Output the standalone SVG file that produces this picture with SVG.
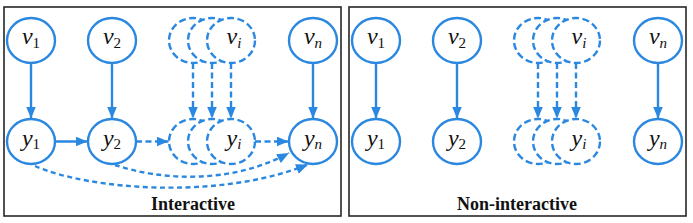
<svg xmlns="http://www.w3.org/2000/svg" width="693" height="223" viewBox="0 0 693 223">
<style>
text,tspan{font-family:"Liberation Serif",serif !important}
.panel{fill:#fff;stroke:#262626;stroke-width:1.6}
.n{fill:#fff;stroke:#2b88e0;stroke-width:2.4}
.d{fill:#fff;stroke:#2b88e0;stroke-width:2.4;stroke-dasharray:7 3.5}
.e{fill:none;stroke:#2b88e0;stroke-width:2.4}
.ed{fill:none;stroke:#2b88e0;stroke-width:2.4;stroke-dasharray:6 3.5}
.dot{fill:none;stroke:#2b88e0;stroke-width:2.4;stroke-dasharray:5 3.5}
</style>
<defs>
<marker id="ah" markerUnits="userSpaceOnUse" markerWidth="13" markerHeight="11" refX="12" refY="5" orient="auto">
<path d="M0,0 L12,5 L0,10 z" fill="#2b88e0"/>
</marker>
</defs>
<rect class="panel" x="4" y="7" width="337" height="209"/>
<rect class="panel" x="349" y="7" width="337" height="209"/>

<g id="left-panel">
<g id="L-v1"><ellipse class="n" cx="31" cy="40.5" rx="24" ry="22.5"/><text style="font-family:'Liberation Serif',serif" font-style="italic" font-size="24" fill="#111" x="31" y="44" text-anchor="middle">v<tspan font-size="15" font-style="normal" dy="3.5">1</tspan></text></g>
<g id="L-v2"><ellipse class="n" cx="112" cy="40.5" rx="24" ry="22.5"/><text style="font-family:'Liberation Serif',serif" font-style="italic" font-size="24" fill="#111" x="112" y="44" text-anchor="middle">v<tspan font-size="15" font-style="normal" dy="3.5">2</tspan></text></g>
<g id="L-vi">
<ellipse class="d" cx="193" cy="40.5" rx="24" ry="22.5"/>
<ellipse class="d" cx="212" cy="40.5" rx="24" ry="22.5"/>
<ellipse class="d" cx="231" cy="40.5" rx="24" ry="22.5"/>
<text style="font-family:'Liberation Serif',serif" font-style="italic" font-size="24" fill="#111" x="234" y="44" text-anchor="middle">v<tspan font-size="15" dy="3.5">i</tspan></text></g>
<g id="L-vn"><ellipse class="n" cx="313" cy="40.5" rx="24" ry="22.5"/><text style="font-family:'Liberation Serif',serif" font-style="italic" font-size="24" fill="#111" x="313" y="44" text-anchor="middle">v<tspan font-size="15" dy="3.5">n</tspan></text></g>
<g id="L-y1"><ellipse class="n" cx="31" cy="141.5" rx="24" ry="22.5"/><text style="font-family:'Liberation Serif',serif" font-style="italic" font-size="24" fill="#111" x="31" y="146" text-anchor="middle">y<tspan font-size="15" font-style="normal" dy="3">1</tspan></text></g>
<g id="L-y2"><ellipse class="n" cx="112" cy="141.5" rx="24" ry="22.5"/><text style="font-family:'Liberation Serif',serif" font-style="italic" font-size="24" fill="#111" x="112" y="146" text-anchor="middle">y<tspan font-size="15" font-style="normal" dy="3">2</tspan></text></g>
<g id="L-yi">
<ellipse class="d" cx="193" cy="141.5" rx="24" ry="22.5"/>
<ellipse class="d" cx="212" cy="141.5" rx="24" ry="22.5"/>
<ellipse class="d" cx="231" cy="141.5" rx="24" ry="22.5"/>
<text style="font-family:'Liberation Serif',serif" font-style="italic" font-size="24" fill="#111" x="234" y="146" text-anchor="middle">y<tspan font-size="15" dy="3">i</tspan></text></g>
<g id="L-yn"><ellipse class="n" cx="313" cy="141.5" rx="24" ry="22.5"/><text style="font-family:'Liberation Serif',serif" font-style="italic" font-size="24" fill="#111" x="313" y="146" text-anchor="middle">y<tspan font-size="15" dy="3">n</tspan></text></g>
<text style="font-family:'Liberation Serif',serif" font-weight="bold" font-size="18" fill="#111" x="193" y="210" text-anchor="middle">Interactive</text>
</g>

<g id="right-panel">
<g id="R-v1"><ellipse class="n" cx="376" cy="40.5" rx="24" ry="22.5"/><text style="font-family:'Liberation Serif',serif" font-style="italic" font-size="24" fill="#111" x="376" y="44" text-anchor="middle">v<tspan font-size="15" font-style="normal" dy="3.5">1</tspan></text></g>
<g id="R-v2"><ellipse class="n" cx="457" cy="40.5" rx="24" ry="22.5"/><text style="font-family:'Liberation Serif',serif" font-style="italic" font-size="24" fill="#111" x="457" y="44" text-anchor="middle">v<tspan font-size="15" font-style="normal" dy="3.5">2</tspan></text></g>
<g id="R-vi">
<ellipse class="d" cx="538" cy="40.5" rx="24" ry="22.5"/>
<ellipse class="d" cx="557" cy="40.5" rx="24" ry="22.5"/>
<ellipse class="d" cx="576" cy="40.5" rx="24" ry="22.5"/>
<text style="font-family:'Liberation Serif',serif" font-style="italic" font-size="24" fill="#111" x="579" y="44" text-anchor="middle">v<tspan font-size="15" dy="3.5">i</tspan></text></g>
<g id="R-vn"><ellipse class="n" cx="658" cy="40.5" rx="24" ry="22.5"/><text style="font-family:'Liberation Serif',serif" font-style="italic" font-size="24" fill="#111" x="658" y="44" text-anchor="middle">v<tspan font-size="15" dy="3.5">n</tspan></text></g>
<g id="R-y1"><ellipse class="n" cx="376" cy="141.5" rx="24" ry="22.5"/><text style="font-family:'Liberation Serif',serif" font-style="italic" font-size="24" fill="#111" x="376" y="146" text-anchor="middle">y<tspan font-size="15" font-style="normal" dy="3">1</tspan></text></g>
<g id="R-y2"><ellipse class="n" cx="457" cy="141.5" rx="24" ry="22.5"/><text style="font-family:'Liberation Serif',serif" font-style="italic" font-size="24" fill="#111" x="457" y="146" text-anchor="middle">y<tspan font-size="15" font-style="normal" dy="3">2</tspan></text></g>
<g id="R-yi">
<ellipse class="d" cx="538" cy="141.5" rx="24" ry="22.5"/>
<ellipse class="d" cx="557" cy="141.5" rx="24" ry="22.5"/>
<ellipse class="d" cx="576" cy="141.5" rx="24" ry="22.5"/>
<text style="font-family:'Liberation Serif',serif" font-style="italic" font-size="24" fill="#111" x="579" y="146" text-anchor="middle">y<tspan font-size="15" dy="3">i</tspan></text></g>
<g id="R-yn"><ellipse class="n" cx="658" cy="141.5" rx="24" ry="22.5"/><text style="font-family:'Liberation Serif',serif" font-style="italic" font-size="24" fill="#111" x="658" y="146" text-anchor="middle">y<tspan font-size="15" dy="3">n</tspan></text></g>
<text style="font-family:'Liberation Serif',serif" font-weight="bold" font-size="18" fill="#111" x="517" y="210" text-anchor="middle">Non-interactive</text>
</g>

<g id="connectors">
<line class="e" x1="31" y1="63" x2="31" y2="118.5" marker-end="url(#ah)"/>
<line class="e" x1="112" y1="63" x2="112" y2="118.5" marker-end="url(#ah)"/>
<line class="ed" x1="193" y1="63" x2="193" y2="118.5" marker-end="url(#ah)"/>
<line class="ed" x1="212" y1="63" x2="212" y2="118.5" marker-end="url(#ah)"/>
<line class="ed" x1="231" y1="63" x2="231" y2="118.5" marker-end="url(#ah)"/>
<line class="e" x1="313" y1="63" x2="313" y2="118.5" marker-end="url(#ah)"/>
<line class="e" x1="55" y1="141.5" x2="87.5" y2="141.5" marker-end="url(#ah)"/>
<line class="ed" x1="136" y1="141.5" x2="168.5" y2="141.5" marker-end="url(#ah)"/>
<line class="ed" x1="255" y1="141.5" x2="288.5" y2="141.5" marker-end="url(#ah)"/>
<path class="dot" d="M35,166 C90,190 220,200 308,164.5" marker-end="url(#ah)"/>
<path class="dot" d="M115,165 C160,180 230,185 289,153" marker-end="url(#ah)"/>
<line class="e" x1="376" y1="63" x2="376" y2="118.5" marker-end="url(#ah)"/>
<line class="e" x1="457" y1="63" x2="457" y2="118.5" marker-end="url(#ah)"/>
<line class="ed" x1="538" y1="63" x2="538" y2="118.5" marker-end="url(#ah)"/>
<line class="ed" x1="557" y1="63" x2="557" y2="118.5" marker-end="url(#ah)"/>
<line class="ed" x1="576" y1="63" x2="576" y2="118.5" marker-end="url(#ah)"/>
<line class="e" x1="658" y1="63" x2="658" y2="118.5" marker-end="url(#ah)"/>
</g>
</svg>
